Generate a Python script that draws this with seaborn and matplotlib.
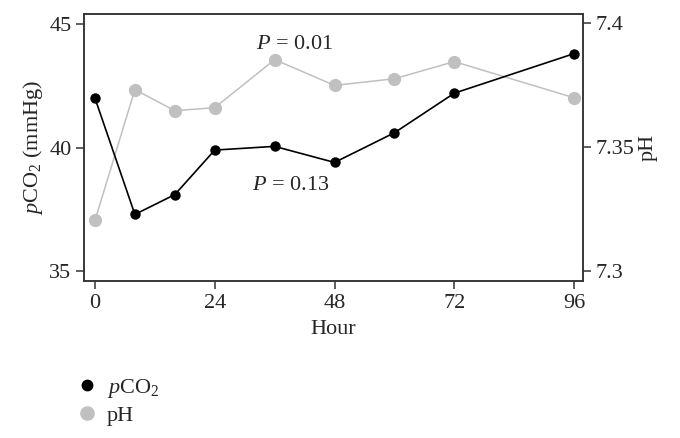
import numpy as np
import pandas as pd
import matplotlib
matplotlib.use('Agg')
import matplotlib.pyplot as plt
import seaborn as sns
from matplotlib.lines import Line2D

# values
hours = [0, 8, 16, 24, 36, 48, 60, 72, 96]
pco2 = [42.0, 37.3, 38.1, 39.9, 40.05, 39.4, 40.6, 42.2, 43.8]
ph = [7.3205, 7.3733, 7.3648, 7.366, 7.3854, 7.375, 7.3777, 7.3846, 7.37]
x_ticks = [0, 24, 48, 72, 96]

df = pd.DataFrame({'hour': hours, 'pco2': pco2, 'ph': ph})

sns.set_style('ticks')
plt.rcParams['font.family'] = ['Liberation Serif', 'DejaVu Serif']
plt.rcParams['mathtext.fontset'] = 'custom'
plt.rcParams['mathtext.rm'] = 'Liberation Serif'
plt.rcParams['mathtext.it'] = 'Liberation Serif:italic'

edge = '#333333'
grey = '#c0c0c0'
fs = 16

fig = plt.figure(figsize=(6.8, 4.38), dpi=100)
ax = fig.add_axes([0.1235, 0.358, 0.734, 0.61])
ax2 = ax.twinx()

sns.lineplot(data=df, x='hour', y='ph', ax=ax2, color=grey, marker='o',
             markersize=9.5, markeredgewidth=0, linewidth=1.1, zorder=2)
sns.lineplot(data=df, x='hour', y='pco2', ax=ax, color='black', marker='o',
             markersize=7.5, markeredgewidth=0, linewidth=1.2)

# draw pCO2 on top of pH
ax.set_zorder(ax2.get_zorder() + 1)
ax.patch.set_visible(False)

ax.set_xlim(-2.2, 97.8)
ax.set_xticks(x_ticks)
ax.set_ylim(34.6, 45.4)
ax.set_yticks([35, 40, 45])
ax2.set_ylim(7.296, 7.4038)
ax2.set_yticks([7.3, 7.35, 7.4])
ax2.set_yticklabels(['7.3', '7.35', '7.4'])

ax.set_xlabel('Hour', fontsize=fs, labelpad=5)
ax.set_ylabel('$p$CO$_2$ (mmHg)', fontsize=fs, labelpad=3)
ax2.set_ylabel('pH', fontsize=fs, labelpad=3)

for a in (ax, ax2):
    for s in a.spines.values():
        s.set_visible(True)
        s.set_color(edge)
        s.set_linewidth(1.1)
    a.tick_params(labelsize=fs, color=edge, width=1.1, length=6, direction='out', pad=3)
    a.grid(False)

ax.text(40.0, 44.15, '$P$ = 0.01', fontsize=fs, ha='center', va='center')
ax.text(39.3, 38.48, '$P$ = 0.13', fontsize=fs, ha='center', va='center')

handles = [Line2D([], [], color='black', marker='o', linestyle='', markersize=7.5),
           Line2D([], [], color=grey, marker='o', linestyle='', markersize=9.5)]
fig.legend(handles, ['$p$CO$_2$', 'pH'], loc='upper left',
           bbox_to_anchor=(0.095, 0.16), frameon=False, fontsize=fs,
           handletextpad=0.3, labelspacing=0.25, borderaxespad=0,
           handlelength=1.2)

fig.savefig('out.png', dpi=100)
